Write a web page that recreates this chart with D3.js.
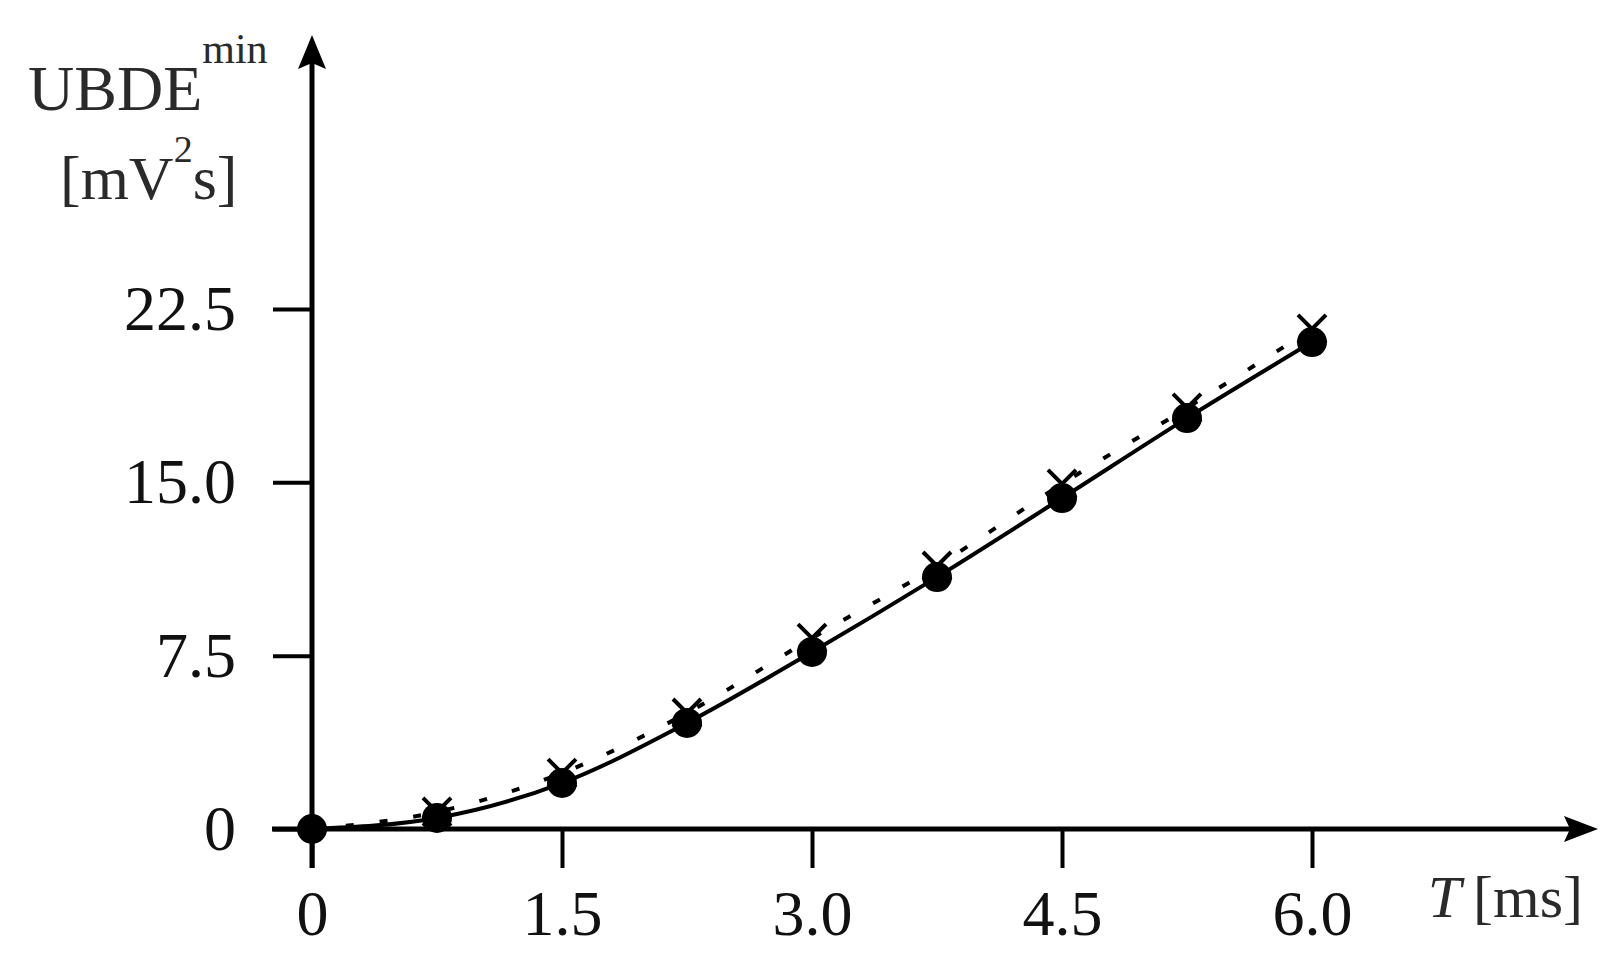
<!DOCTYPE html>
<html>
<head>
<meta charset="utf-8">
<script src="https://cdn.jsdelivr.net/npm/d3@7"></script>
<style>
  body { margin: 0; background: #fff; }
  svg { display: block; }
</style>
</head>
<body>
<div class="chart"></div>
<script>
// time axis [ms]
const T = [0, 0.75, 1.5, 2.25, 3.0, 3.75, 4.5, 5.25, 6.0];
// solid curve with filled circles
const solidVals = [0, 0.48, 1.99, 4.59, 7.66, 10.9, 14.32, 17.78, 21.07];
// dotted curve with x marks
const dottedVals = [0, 0.74, 2.42, 5.02, 8.26, 11.38, 14.93, 18.22, 21.64];

const xTicks = [0, 1.5, 3.0, 4.5, 6.0];
const xTickLabels = ["0", "1.5", "3.0", "4.5", "6.0"];
const yTicks = [0, 7.5, 15, 22.5];
const yTickLabels = ["0", "7.5", "15.0", "22.5"];

const width = 1619, height = 975;
const font = "'Liberation Serif', 'Times New Roman', serif";

const svg = d3.select(".chart").append("svg")
  .attr("width", width)
  .attr("height", height);

const x = d3.scaleLinear().domain([0, 6]).range([312, 1312]);
const y = d3.scaleLinear().domain([0, 22.5]).range([829, 309]);

// Axes (ticks + labels only, lines drawn below with arrows)
const xAxis = svg.append("g")
  .attr("transform", `translate(0,${y(0)})`)
  .call(d3.axisBottom(x).tickValues(xTicks)
    .tickFormat((d, i) => xTickLabels[i])
    .tickSize(39).tickPadding(22));

const yAxis = svg.append("g")
  .attr("transform", `translate(${x(0)},0)`)
  .call(d3.axisLeft(y).tickValues(yTicks)
    .tickFormat((d, i) => yTickLabels[i])
    .tickSize(39).tickPadding(37));

[xAxis, yAxis].forEach(g => {
  g.select(".domain").remove();
  g.selectAll(".tick line").attr("stroke", "#000").attr("stroke-width", 4);
  g.selectAll(".tick text")
    .attr("fill", "#111")
    .style("font-family", font)
    .style("font-size", "64px");
});

// axis lines with arrow heads
const axes = svg.append("g").attr("fill", "#000").attr("stroke", "#000");
axes.append("line")
  .attr("x1", 272).attr("x2", 1575)
  .attr("y1", y(0)).attr("y2", y(0))
  .attr("stroke-width", 5);
axes.append("path")
  .attr("stroke", "none")
  .attr("d", `M1598,${y(0)} L1564,${y(0) - 13} L1570,${y(0)} L1564,${y(0) + 13} Z`);

axes.append("line")
  .attr("x1", x(0)).attr("x2", x(0))
  .attr("y1", 868).attr("y2", 60)
  .attr("stroke-width", 5);
axes.append("path")
  .attr("stroke", "none")
  .attr("d", `M${x(0)},35 L${x(0) - 14},69 L${x(0)},63 L${x(0) + 14},69 Z`);

// axis titles
const yTitle = svg.append("text")
  .attr("fill", "#2a2a2a")
  .style("font-family", font)
  .style("font-size", "64px");
yTitle.append("tspan").attr("x", 28).attr("y", 110).text("UBDE");
yTitle.append("tspan").attr("y", 63).style("font-size", "42px").text("min");

const yUnit = svg.append("text")
  .attr("fill", "#2a2a2a")
  .style("font-family", font)
  .style("font-size", "62px")
  .attr("x", 60).attr("y", 199);
yUnit.append("tspan").text("[mV");
yUnit.append("tspan").attr("dy", -37).style("font-size", "38px").text("2");
yUnit.append("tspan").attr("dy", 37).text("s]");

const xTitle = svg.append("text")
  .attr("fill", "#2a2a2a")
  .style("font-family", font)
  .style("font-size", "60px")
  .attr("x", 1583).attr("y", 917)
  .attr("text-anchor", "end");
xTitle.append("tspan").style("font-style", "italic").text("T");
xTitle.append("tspan").text("\u2009[ms]");

// curves
const solidData = T.map((t, i) => ({ t, v: solidVals[i] }));
const dottedData = T.map((t, i) => ({ t, v: dottedVals[i] }));

const line = d3.line()
  .x(d => x(d.t))
  .y(d => y(d.v))
  .curve(d3.curveMonotoneX);

svg.append("path")
  .datum(dottedData)
  .attr("fill", "none")
  .attr("stroke", "#000")
  .attr("stroke-width", 4)
  .attr("stroke-dasharray", "8,26")
  .attr("d", line);

svg.append("path")
  .datum(solidData)
  .attr("fill", "none")
  .attr("stroke", "#000")
  .attr("stroke-width", 4)
  .attr("d", line);

// x marks (hidden behind the origin circle in the original, so skip t = 0)
const s = 14;
svg.append("g")
  .attr("stroke", "#000")
  .attr("stroke-width", 4)
  .selectAll("path")
  .data(dottedData.filter(d => d.t > 0))
  .join("path")
  .attr("d", d => {
    const cx = x(d.t), cy = y(d.v);
    return `M${cx - s},${cy - s}L${cx + s},${cy + s}M${cx + s},${cy - s}L${cx - s},${cy + s}`;
  });

svg.append("g")
  .selectAll("circle")
  .data(solidData)
  .join("circle")
  .attr("cx", d => x(d.t))
  .attr("cy", d => y(d.v))
  .attr("r", 15)
  .attr("fill", "#000");
</script>
</body>
</html>
